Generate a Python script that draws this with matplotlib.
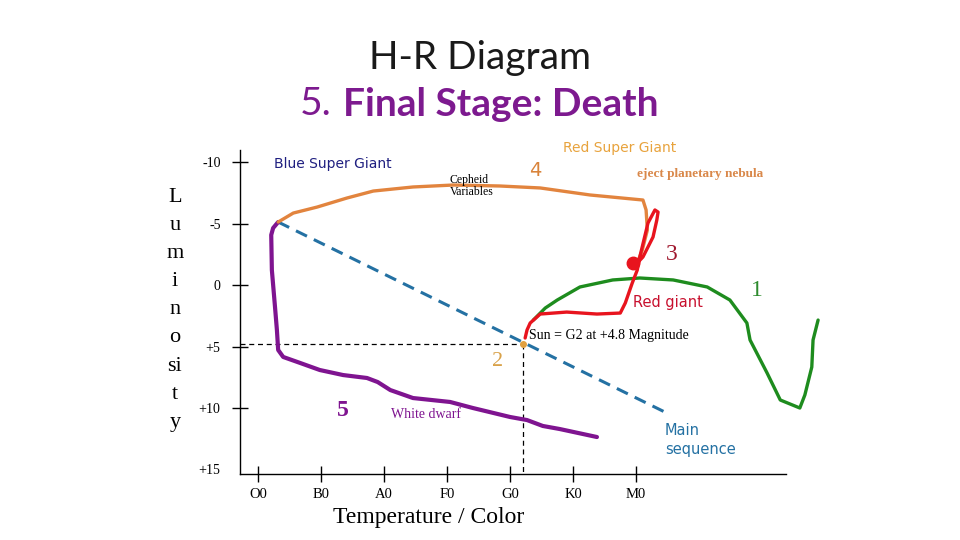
import matplotlib
matplotlib.use("Agg")
import matplotlib.pyplot as plt

# ── Data (spectral class index, absolute magnitude) ──────────────
spectral_classes = ["O0", "B0", "A0", "F0", "G0", "K0", "M0"]
mag_ticks = [-10, -5, 0, 5, 10, 15]
mag_labels = ["-10", "-5", "0", "+5", "+10", "+15"]

# 1: main sequence star swelling into a red giant (green)
green_x = [4.37, 4.56, 4.75, 5.11, 5.63, 6.06, 6.59, 7.13, 7.49, 7.76, 7.81,
           8.08, 8.29, 8.60, 8.68, 8.79, 8.81, 8.89]
green_y = [2.85, 1.87, 1.22, 0.16, -0.41, -0.57, -0.41, 0.16, 1.22, 3.09, 4.47,
           7.15, 9.35, 10.0, 8.94, 6.67, 4.47, 2.85]

# 3: red giant track with loop (red)
red_x = [4.24, 4.27, 4.32, 4.48, 4.90, 5.38, 5.75, 5.83, 5.94, 6.02, 6.06,
         6.19, 6.30, 6.35, 6.33, 6.27, 6.11, 6.02]
red_y = [4.31, 3.66, 3.09, 2.36, 2.20, 2.36, 2.28, 1.46, -0.16, -1.22, -2.28,
         -5.04, -6.10, -5.93, -5.28, -3.90, -2.28, -1.79]

# 4: red super giant / cepheid track (orange)
orange_x = [0.32, 0.56, 0.94, 1.41, 1.83, 2.46, 3.10, 3.84, 4.48, 5.27, 6.11,
            6.16, 6.18, 6.10, 6.02]
orange_y = [-5.12, -5.85, -6.34, -7.07, -7.64, -7.97, -8.13, -8.05, -7.89,
            -7.32, -6.91, -6.10, -4.47, -2.85, -1.79]

# 5: collapse to white dwarf (purple)
purple_x = [0.32, 0.24, 0.21, 0.22, 0.27, 0.30, 0.32, 0.40, 0.67, 0.98, 1.35,
            1.73, 1.90, 2.10, 2.46, 3.05, 3.41, 4.00, 4.27, 4.52, 4.79, 5.38]
purple_y = [-5.12, -4.63, -4.07, -1.22, 1.79, 3.66, 5.28, 5.85, 6.34, 6.91, 7.32,
            7.56, 7.89, 8.54, 9.19, 9.51, 10.0, 10.73, 10.98, 11.46, 11.71, 12.36]

# main sequence (dashed)
ms_x = [0.32, 6.49]
ms_y = [-5.12, 10.41]

sun_class, sun_mag = 4.2, 4.8
red_dot = (5.95, -1.79)

# ── Figure ───────────────────────────────────────────
plt.rcParams["font.serif"] = ["Liberation Serif", "DejaVu Serif"]

fig = plt.figure(figsize=(9.6, 5.4), dpi=100)
fig.patch.set_facecolor("white")


def px(x, y):
    return x / 960, 1 - y / 540


ax = fig.add_axes([240 / 960, 1 - 474 / 540, 590 / 960, 334 / 540])
x_lo, x_hi = -0.2857, 9.079
y_top, y_bot = -11.79, 15.366
ax.set_xlim(x_lo, x_hi)
ax.set_ylim(y_bot, y_top)
ax.patch.set_alpha(0)

for s in ["top", "right"]:
    ax.spines[s].set_visible(False)
ax.spines["left"].set_bounds(y_bot, -11.0)
ax.spines["bottom"].set_bounds(x_lo, 8.381)
for s in ["left", "bottom"]:
    ax.spines[s].set_linewidth(1.0)

ax.set_xticks(range(len(spectral_classes)))
ax.set_xticklabels(spectral_classes, family="serif", fontsize=10.5)
ax.set_yticks(mag_ticks)
ax.set_yticklabels(mag_labels, family="serif", fontsize=10)
ax.tick_params(axis="both", direction="inout", length=12, width=1)
ax.tick_params(axis="y", pad=8)
ax.tick_params(axis="x", pad=4)
ax.yaxis.get_major_ticks()[-1].tick1line.set_visible(False)

# sun guide lines
ax.plot([x_lo, sun_class], [sun_mag, sun_mag], color="black", lw=0.9,
        ls=(0, (4, 3)))
ax.plot([sun_class, sun_class], [sun_mag, y_bot], color="black", lw=0.9,
        ls=(0, (4, 3)))

# tracks
ax.plot(ms_x, ms_y, color="#2471A3", lw=2.2, ls=(0, (4, 2.5)))
ax.plot(purple_x, purple_y, color="#7F1490", lw=3.0, solid_capstyle="round")
ax.plot(orange_x, orange_y, color="#E2843E", lw=2.4, solid_capstyle="round")
ax.plot(green_x, green_y, color="#1E8C1E", lw=2.4, solid_capstyle="round")
ax.plot(red_x, red_y, color="#E8141E", lw=2.4, solid_capstyle="round")
ax.plot(*red_dot, "o", color="#E8141E", ms=9)
ax.plot(sun_class, sun_mag, "o", color="#E0A040", ms=4)

# ── Titles ───────────────────────────────────────────
fig.text(*px(480, 58), "H-R Diagram", ha="center", va="center",
         fontsize=28, family="Lato", color="#1a1a1a")
fig.text(*px(300, 104), "5.", ha="left", va="center", fontsize=28,
         family="Lato", color="#7D1A8F")
fig.text(*px(343, 104), "Final Stage: Death", ha="left", va="center",
         fontsize=28, family="Lato", fontweight="bold", color="#7D1A8F")

# Luminosity, stacked letters
for i, letter in enumerate(["L", "u", "m", "i", "n", "o", "si", "t", "y"]):
    fig.text(*px(175, 202 + 28.1 * i), letter, ha="center", va="baseline",
             family="serif", fontsize=16)

fig.text(*px(429, 518), "Temperature / Color", ha="center", va="center",
         family="serif", fontsize=17)

# ── Annotations ──────────────────────────────────────
fig.text(*px(274, 164), "Blue Super Giant", va="center", fontsize=10,
         color="#1F1F80")
fig.text(*px(450, 186), "Cepheid\nVariables", va="center", family="serif",
         fontsize=8.5, linespacing=1.0)
fig.text(*px(535, 170), "4", ha="center", va="center", fontsize=14,
         color="#D9833A")
fig.text(*px(563, 148), "Red Super Giant", va="center", fontsize=10,
         color="#E8A33D")
fig.text(*px(637, 174), "eject planetary nebula", va="center",
         family="serif", fontweight="bold", fontsize=9.5, color="#D9884A")
fig.text(*px(672, 254), "3", ha="center", va="center", family="serif",
         fontsize=17, color="#A0182E")
fig.text(*px(757, 290), "1", ha="center", va="center", family="serif",
         fontsize=17, color="#2E8B2E")
fig.text(*px(633, 302), "Red giant", va="center", fontsize=10.5,
         color="#C8102E")
fig.text(*px(529, 336), "Sun = G2 at +4.8 Magnitude", va="center",
         family="serif", fontsize=10)
fig.text(*px(498, 362), "2", ha="center", va="center", family="serif",
         fontsize=16, color="#D9A24A")
fig.text(*px(343, 410), "5", ha="center", va="center", family="serif",
         fontweight="bold", fontsize=17, color="#7F1490")
fig.text(*px(391, 414), "White dwarf", va="center", family="serif",
         fontsize=10, color="#7F1490")
fig.text(*px(665, 440), "Main\nsequence", va="center", fontsize=10.5,
         color="#2471A3", linespacing=1.3)

fig.savefig("out.png", dpi=100)
